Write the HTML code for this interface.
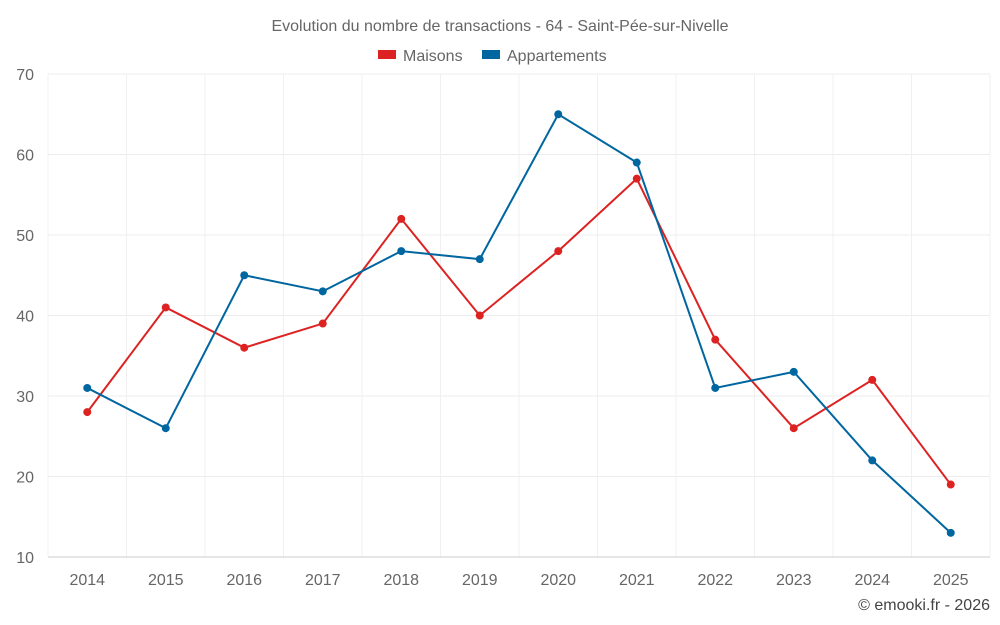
<!DOCTYPE html>
<html><head><meta charset="utf-8"><style>
body{margin:0;background:#fff;}
svg{display:block;font-family:"Liberation Sans",sans-serif;}
</style></head><body>
<svg id="chart" width="1000" height="625" viewBox="0 0 1000 625">
<text x="500" y="31" text-anchor="middle" font-size="16" fill="#666">Evolution du nombre de transactions - 64 - Saint-Pée-sur-Nivelle</text>
<g>
<g><rect x="378" y="50" width="18" height="9" fill="#dd2222"/><text x="403" y="61" font-size="16" fill="#666">Maisons</text></g>
<g><rect x="482" y="50" width="18" height="9" fill="#0066a0"/><text x="507" y="61" font-size="16" fill="#666">Appartements</text></g>
</g>
<g id="grid"></g>
<g id="axes"></g>
<g id="series"></g>
<text x="990" y="610" text-anchor="end" font-size="16" fill="#444">© emooki.fr - 2026</text>
</svg>
<script>
const categories=["2014","2015","2016","2017","2018","2019","2020","2021","2022","2023","2024","2025"];
const maisons=[28,41,36,39,52,40,48,57,37,26,32,19];
const appartements=[31,26,45,43,48,47,65,59,31,33,22,13];
const yTicks=[10,20,30,40,50,60,70];
const NS="http://www.w3.org/2000/svg";
const L=48,R=990,T=74,B=557,yMin=10,yMax=70;
const bw=(R-L)/categories.length;
const x=i=>L+(i+0.5)*bw;
const y=v=>B-(v-yMin)/(yMax-yMin)*(B-T);
function mk(tag,attrs,parent){const e=document.createElementNS(NS,tag);for(const k in attrs)e.setAttribute(k,attrs[k]);parent.appendChild(e);return e;}
const grid=document.getElementById('grid'),axes=document.getElementById('axes'),series=document.getElementById('series');
yTicks.forEach(v=>{
  const ln=mk('line',{x1:L,x2:R,y1:y(v),y2:y(v),stroke:'#ececec','stroke-width':1},grid);
  
  
  const t=mk('text',{x:34,y:y(v)+6,'text-anchor':'end','font-size':16,fill:'#666'},axes);
  t.textContent=v;
  
  
});
for(let i=0;i<=categories.length;i++){
  const ln=mk('line',{x1:L+i*bw,x2:L+i*bw,y1:T,y2:B,stroke:'#f0f0f0','stroke-width':1},grid);
  
  
}
const ax=mk('line',{x1:L,x2:R,y1:B,y2:B,stroke:'#ccc','stroke-width':1},axes);


categories.forEach((c,i)=>{
  const t=mk('text',{x:x(i),y:585,'text-anchor':'middle','font-size':16,fill:'#666'},axes);
  t.textContent=c;
  
  
});
function draw(data,color,name){
  const p=mk('polyline',{points:data.map((v,i)=>x(i)+','+y(v)).join(' '),fill:'none',stroke:color,'stroke-width':2},series);
  
  
  data.forEach((v,i)=>{
    const c=mk('circle',{cx:x(i),cy:y(v),r:4,fill:color},series);
    
    
  });
}
draw(maisons,'#dd2222','maisons');
draw(appartements,'#0066a0','appartements');
</script>
</body></html>
